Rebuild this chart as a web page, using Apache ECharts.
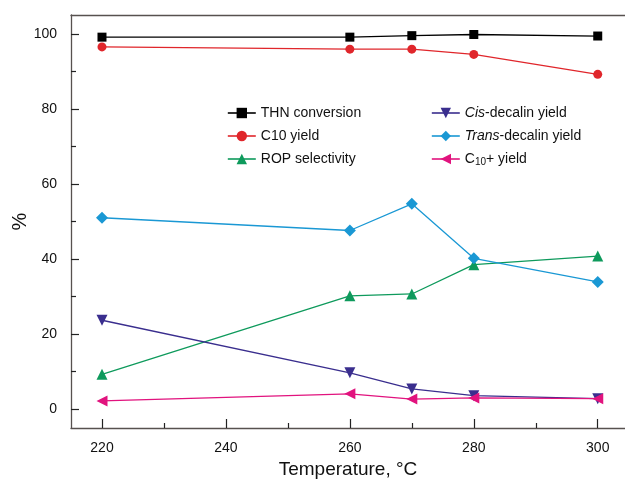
<!DOCTYPE html>
<html><head><meta charset="utf-8">
<script src="https://cdn.jsdelivr.net/npm/echarts@6/dist/echarts.min.js"></script>
<style>html,body{margin:0;padding:0;background:#fff}#c{width:625px;height:486px}</style>
</head><body><div id="c"></div>
<script>
var temperatures = [220, 260, 270, 280, 300];
var thnConversion = [99.1, 99.1, 99.5, 99.8, 99.4];
var c10Yield = [96.5, 95.9, 95.9, 94.5, 89.2];
var ropSelectivity = [9.3, 30.2, 30.7, 38.5, 40.8];
var cisYield = [23.7, 9.7, 5.4, 3.6, 2.8];
var transYield = [51.0, 47.6, 54.7, 40.2, 33.9];
var c10PlusYield = [2.2, 4.1, 2.7, 3.0, 2.8];
var xMajorTicks = [220, 240, 260, 280, 300];
var xMinorTicks = [230, 250, 270, 290];
var yMajorTicks = [0, 20, 40, 60, 80, 100];
var yMinorTicks = [10, 30, 50, 70, 90];

function pairs(vals){ return temperatures.map(function(t,i){ return [t, vals[i]]; }); }
var FONT = 'Liberation Sans';
var axisColor = '#57514f';

function mk(name, vals, color, symbol, rot, size){
  return {name:name, type:'line', data:pairs(vals), symbol:symbol, symbolRotate:rot, symbolSize:size,
    xAxisIndex:0, yAxisIndex:0,
    lineStyle:{color:color, width:1.3}, itemStyle:{color:color}, z:3};
}

var chart = echarts.init(document.getElementById('c'), null, {renderer:'canvas'});
var legendFmt = function(name){
  if (name === 'Cis-decalin yield') return '{it|Cis}-decalin yield';
  if (name === 'Trans-decalin yield') return '{it|Trans}-decalin yield';
  if (name === 'C10+ yield') return 'C{sub|10}+ yield';
  return name;
};
var legendText = {fontFamily:FONT, fontSize:14, color:'#111', lineHeight:16,
  rich:{it:{fontStyle:'italic', fontFamily:FONT, fontSize:14, color:'#111'},
        sub:{fontSize:10, fontFamily:FONT, color:'#111', verticalAlign:'bottom', padding:[6,0,0,0]}}};

chart.setOption({
  animation:false,
  backgroundColor:'#fff',
  grid:{left:71, top:15, right:0, bottom:58, outerBoundsMode:'none', containLabel:false},
  legend:[
    {data:['THN conversion','C10 yield','ROP selectivity'], orient:'vertical', left:222, top:100,
     itemWidth:28, itemHeight:13, itemGap:7, formatter:legendFmt, textStyle:legendText,
     lineStyle:{width:1.6}},
    {data:['Cis-decalin yield','Trans-decalin yield','C10+ yield'], orient:'vertical', left:426, top:100,
     itemWidth:28, itemHeight:13, itemGap:7, formatter:legendFmt, textStyle:legendText,
     lineStyle:{width:1.6}}
  ],
  xAxis:[
    {type:'value', min:215, max:304.4, position:'bottom',
     name:'Temperature, °C', nameLocation:'middle', nameGap:32,
     nameTextStyle:{fontFamily:FONT, fontSize:19, color:'#111'},
     axisLine:{show:true, onZero:false, lineStyle:{color:axisColor, width:1.3}},
     axisTick:{show:true, inside:true, length:9, customValues:xMajorTicks, lineStyle:{color:'#222', width:1.2}},
     axisLabel:{show:true, customValues:xMajorTicks, margin:13, fontFamily:FONT, fontSize:14, color:'#111'},
     splitLine:{show:false}},
    {type:'value', min:215, max:304.4, position:'bottom', gridIndex:0,
     axisLine:{show:false, onZero:false},
     axisTick:{show:true, inside:true, length:5, customValues:xMinorTicks, lineStyle:{color:'#222', width:1.2}},
     axisLabel:{show:false}, splitLine:{show:false}},
    {type:'value', min:215, max:304.4, position:'top', gridIndex:0,
     axisLine:{show:true, onZero:false, lineStyle:{color:axisColor, width:1.3}},
     axisTick:{show:false}, axisLabel:{show:false}, splitLine:{show:false}}
  ],
  yAxis:[
    {type:'value', min:-5, max:105, position:'left',
     name:'%', nameLocation:'middle', nameGap:41, nameRotate:90, nameMoveOverlap:false,
     nameTextStyle:{fontFamily:FONT, fontSize:20, color:'#111'},
     axisLine:{show:true, onZero:false, lineStyle:{color:axisColor, width:1.3}},
     axisTick:{show:true, inside:true, length:8, customValues:yMajorTicks, lineStyle:{color:'#222', width:1.2}},
     axisLabel:{show:true, customValues:yMajorTicks, margin:14, fontFamily:FONT, fontSize:14, color:'#111'},
     splitLine:{show:false}},
    {type:'value', min:-5, max:105, position:'left', gridIndex:0,
     axisLine:{show:false, onZero:false},
     axisTick:{show:true, inside:true, length:5, customValues:yMinorTicks, lineStyle:{color:'#222', width:1.2}},
     axisLabel:{show:false}, splitLine:{show:false}}
  ],
  series:[
    mk('THN conversion', thnConversion, '#000000', 'rect', 0, 9),
    mk('C10 yield', c10Yield, '#e0262b', 'circle', 0, 9),
    mk('ROP selectivity', ropSelectivity, '#0e9a5c', 'triangle', 0, 11),
    mk('Cis-decalin yield', cisYield, '#3a2e8e', 'triangle', 180, 11),
    mk('Trans-decalin yield', transYield, '#1a98d4', 'diamond', 0, 12),
    mk('C10+ yield', c10PlusYield, '#e1137e', 'triangle', 90, 11)
  ]
});
</script></body></html>
